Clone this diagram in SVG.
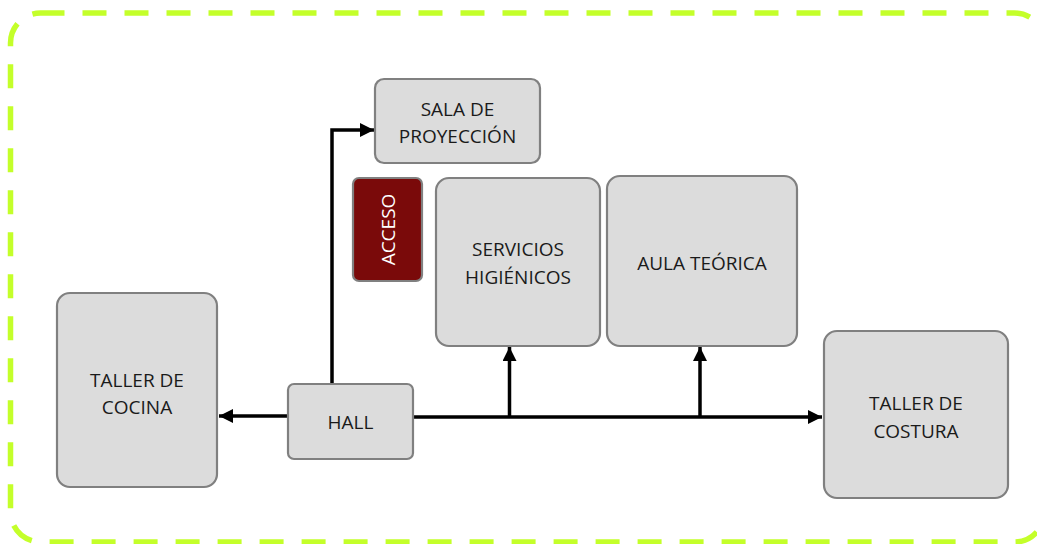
<svg xmlns="http://www.w3.org/2000/svg" width="1037" height="544" viewBox="0 0 1037 544">
<style>
.box{fill:#dcdcdc;stroke:#808080;stroke-width:2.2}
.acc{fill:#7a0a0a;stroke:#808080;stroke-width:2.2}
.t{font-family:"Open Sans","Liberation Sans",sans-serif;font-size:19px;fill:#1a1a1a;text-anchor:middle}
.tw{font-family:"Open Sans","Liberation Sans",sans-serif;font-size:19px;fill:#ffffff;text-anchor:middle}
.ln{fill:none;stroke:#000;stroke-width:3.5}
</style>
<defs>
<marker id="ah" markerUnits="userSpaceOnUse" markerWidth="15" markerHeight="14" refX="14" refY="7" orient="auto">
<path d="M0,0 L14,7 L0,14 z" fill="#000"/>
</marker>
</defs>
<rect id="border" x="10.5" y="13" width="1034" height="529" rx="30" fill="none" stroke="#c4ff2a" stroke-width="5.5" stroke-dasharray="24 18"/>
<g id="connectors">
<line class="ln" x1="288" y1="416" x2="219" y2="416" marker-end="url(#ah)"/>
<line class="ln" x1="413" y1="417" x2="822" y2="417" marker-end="url(#ah)"/>
<line class="ln" x1="509.5" y1="417" x2="509.5" y2="347" marker-end="url(#ah)"/>
<line class="ln" x1="700" y1="417" x2="700" y2="347" marker-end="url(#ah)"/>
<polyline class="ln" points="332,384 332,130 374,130" marker-end="url(#ah)"/>
</g>
<g id="sala">
<rect class="box" x="375" y="79" width="165" height="84" rx="9"/>
<text class="t" x="457.5" y="116">SALA DE</text>
<text class="t" x="457.5" y="143">PROYECCIÓN</text>
</g>
<g id="acceso">
<rect class="acc" x="353" y="178" width="69" height="103" rx="6"/>
<text class="tw" transform="translate(387.5,229.5) rotate(-90)" x="0" y="7">ACCESO</text>
</g>
<g id="servicios">
<rect class="box" x="436" y="178" width="164" height="168" rx="13"/>
<text class="t" x="518" y="255.5">SERVICIOS</text>
<text class="t" x="518" y="283.5">HIGIÉNICOS</text>
</g>
<g id="aula">
<rect class="box" x="607" y="176" width="190" height="170" rx="13"/>
<text class="t" x="702" y="270">AULA TEÓRICA</text>
</g>
<g id="cocina">
<rect class="box" x="57" y="293" width="160" height="194" rx="13"/>
<text class="t" x="137" y="387">TALLER DE</text>
<text class="t" x="137" y="414">COCINA</text>
</g>
<g id="hall">
<rect class="box" x="288" y="384" width="125" height="75" rx="6"/>
<text class="t" x="350.5" y="429">HALL</text>
</g>
<g id="costura">
<rect class="box" x="824" y="331" width="184" height="167" rx="13"/>
<text class="t" x="916" y="410">TALLER DE</text>
<text class="t" x="916" y="437.5">COSTURA</text>
</g>
</svg>
